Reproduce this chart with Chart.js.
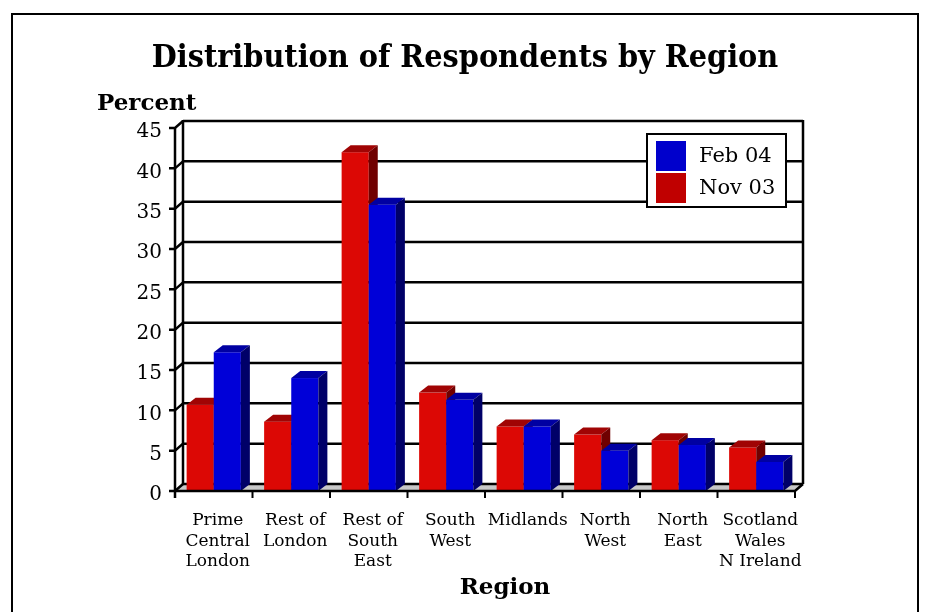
<!DOCTYPE html>
<html>
<head>
<meta charset="utf-8">
<title>Distribution of Respondents by Region</title>
<script src="https://cdn.jsdelivr.net/npm/chart.js@4.4.1/dist/chart.umd.min.js"></script>
<style>
  html, body { margin: 0; padding: 0; background: #fff; }
  #wrap { width: 931px; height: 612px; }
</style>
</head>
<body>
<div id="wrap"><canvas id="regionChart" width="931" height="612"></canvas></div>
<script>
// Survey data
const regions = [
    ['Prime', 'Central', 'London'],
    ['Rest of', 'London'],
    ['Rest of', 'South', 'East'],
    ['South', 'West'],
    ['Midlands'],
    ['North', 'West'],
    ['North', 'East'],
    ['Scotland', 'Wales', 'N Ireland']
];
const seriesNames = ['Nov 03', 'Feb 04'];
const nov03 = [10.7, 8.6, 42.0, 12.2, 8.0, 7.0, 6.3, 5.4];
const feb04 = [17.2, 14.0, 35.5, 11.3, 8.0, 5.0, 5.7, 3.6];
const yTicks = [0, 5, 10, 15, 20, 25, 30, 35, 40, 45];

// Face colours for the 3D bars: front, top, side, legend swatch
const redFaces = { front: '#dc0805', top: '#a00404', side: '#700000', key: '#c00000' };
const blueFaces = { front: '#0000d8', top: '#0000a2', side: '#000068', key: '#0000cc' };

const SERIF = '"DejaVu Serif", serif';
const wall = { dx: 8, dy: -7 };    // back wall offset
const box = { dx: 9, dy: -7 };     // bar depth

function line(ctx, x1, y1, x2, y2) {
    ctx.beginPath();
    ctx.moveTo(x1, y1);
    ctx.lineTo(x2, y2);
    ctx.stroke();
}

function quad(ctx, pts, fill) {
    ctx.fillStyle = fill;
    ctx.beginPath();
    ctx.moveTo(pts[0], pts[1]);
    for (let i = 2; i < pts.length; i += 2) ctx.lineTo(pts[i], pts[i + 1]);
    ctx.closePath();
    ctx.fill();
}

// Floor, back wall, bars and axes drawn as a pseudo-3D box
const box3d = {
    id: 'box3d',
    beforeDatasetsDraw(chart) {
        const { ctx, chartArea: a, scales: { y } } = chart;
        const n = chart.data.labels.length;
        ctx.save();

        // floor
        quad(ctx, [a.left, a.bottom, a.right, a.bottom,
                   a.right + wall.dx, a.bottom + wall.dy, a.left + wall.dx, a.bottom + wall.dy], '#c8c8c8');

        // gridlines on the back wall
        ctx.strokeStyle = '#000';
        ctx.lineWidth = 2.5;
        y.ticks.forEach(t => {
            const py = y.getPixelForValue(t.value) + wall.dy;
            line(ctx, a.left + wall.dx, py, a.right + wall.dx, py);
        });
        line(ctx, a.left + wall.dx, a.top + wall.dy - 1, a.left + wall.dx, a.bottom + wall.dy);
        line(ctx, a.right + wall.dx, a.top + wall.dy - 1, a.right + wall.dx, a.bottom + wall.dy);

        // y tick marks, bent back into the wall
        y.ticks.forEach(t => {
            const py = y.getPixelForValue(t.value);
            ctx.beginPath();
            ctx.moveTo(a.left - 6, py);
            ctx.lineTo(a.left, py);
            ctx.lineTo(a.left + wall.dx, py + wall.dy);
            ctx.stroke();
        });

        // bars, category by category so later faces overlap earlier sides
        const metas = chart.getSortedVisibleDatasetMetas();
        for (let i = 0; i < n; i++) {
            metas.forEach(meta => {
                const faces = chart.data.datasets[meta.index].faces;
                const el = meta.data[i];
                const { x, y: top, base, width } = el.getProps(['x', 'y', 'base', 'width'], true);
                const l = x - width / 2, r = x + width / 2;
                ctx.fillStyle = faces.front;
                ctx.fillRect(l, top, width, base - top);
                quad(ctx, [l, top, r, top, r + box.dx, top + box.dy, l + box.dx, top + box.dy], faces.top);
                quad(ctx, [r, top, r + box.dx, top + box.dy, r + box.dx, base + box.dy, r, base], faces.side);
            });
        }

        // front axes
        ctx.strokeStyle = '#000';
        ctx.lineWidth = 2.5;
        line(ctx, a.left, a.top, a.left, a.bottom + 7);
        ctx.beginPath();
        ctx.moveTo(a.left, a.bottom);
        ctx.lineTo(a.right, a.bottom);
        ctx.lineTo(a.right + wall.dx, a.bottom + wall.dy);
        ctx.stroke();
        ctx.lineWidth = 2;
        for (let k = 1; k <= n; k++) {
            const px = a.left + k * (a.right - a.left) / n;
            line(ctx, px, a.bottom, px, a.bottom + 7);
        }
        ctx.restore();
        return false;
    }
};

// Frame, titles and the boxed legend
const decorations = {
    id: 'decorations',
    afterDraw(chart) {
        const { ctx } = chart;
        ctx.save();
        ctx.strokeStyle = '#000';
        ctx.lineWidth = 2;
        ctx.strokeRect(12, 14, 906, 640);

        ctx.fillStyle = '#000';
        ctx.textBaseline = 'alphabetic';
        ctx.textAlign = 'center';
        ctx.font = 'bold 32px "DejaVu Serif Condensed", ' + SERIF;
        ctx.fillText('Distribution of Respondents by Region', 465, 67);

        ctx.font = 'bold 23px ' + SERIF;
        ctx.fillText('Region', 505, 594);

        ctx.textAlign = 'left';
        ctx.fillText('Percent', 97, 110);

        // legend, newest series first
        const lx = 647, ly = 134, lw = 139, lh = 73;
        ctx.fillStyle = '#fff';
        ctx.fillRect(lx, ly, lw, lh);
        ctx.lineWidth = 2;
        ctx.strokeRect(lx, ly, lw, lh);
        ctx.font = '21px ' + SERIF;
        const items = chart.data.datasets.slice().reverse();
        items.forEach((ds, k) => {
            const sy = ly + 7 + k * 32;
            ctx.fillStyle = ds.faces.key;
            ctx.fillRect(lx + 9, sy, 30, 30);
            ctx.fillStyle = '#000';
            ctx.fillText(ds.label, lx + 52, sy + 21);
        });
        ctx.restore();
    }
};

new Chart(document.getElementById('regionChart'), {
    type: 'bar',
    data: {
        labels: regions,
        datasets: [
            { label: seriesNames[0], data: nov03, backgroundColor: redFaces.front, faces: redFaces },
            { label: seriesNames[1], data: feb04, backgroundColor: blueFaces.front, faces: blueFaces }
        ]
    },
    options: {
        responsive: false,
        animation: false,
        layout: { padding: { top: 128, right: 136, left: 0, bottom: 0 } },
        datasets: { bar: { categoryPercentage: 0.7, barPercentage: 1.0 } },
        plugins: {
            legend: { display: false },
            tooltip: { enabled: false }
        },
        scales: {
            x: {
                grid: { display: false, drawTicks: false },
                border: { display: false },
                ticks: {
                    color: '#000',
                    font: { family: SERIF, size: 17, lineHeight: 1.18 },
                    padding: 20,
                    labelOffset: 4,
                    maxRotation: 0,
                    autoSkip: false
                },
                afterFit(scale) { scale.height = 121; }
            },
            y: {
                min: 0,
                max: 45,
                grid: { display: false, drawTicks: false },
                border: { display: false },
                afterBuildTicks(scale) { scale.ticks = yTicks.map(v => ({ value: v })); },
                ticks: {
                    color: '#000',
                    font: { family: SERIF, size: 20 },
                    padding: 13,
                    labelOffset: 4
                },
                afterFit(scale) { scale.width = 175; }
            }
        }
    },
    plugins: [box3d, decorations]
});
</script>
</body>
</html>
